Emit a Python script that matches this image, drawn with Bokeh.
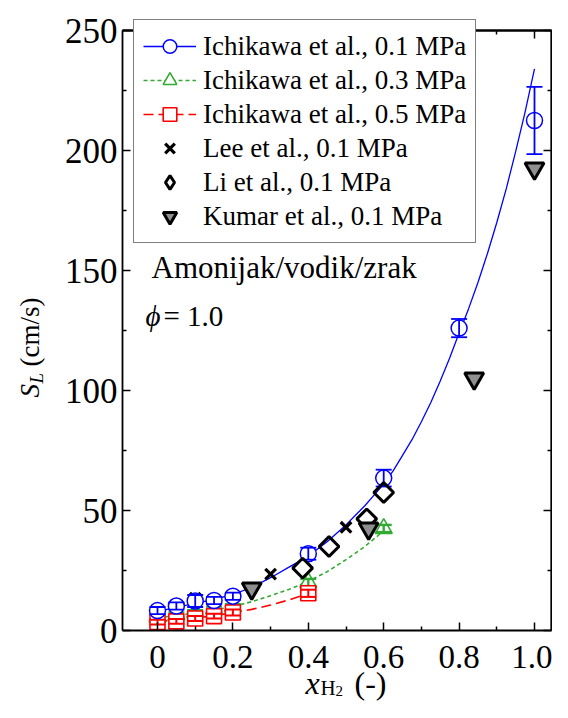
import math
from bokeh.plotting import figure
from bokeh.models import Range1d, LinearAxis, FixedTicker, Legend, LegendItem, Label
from bokeh.embed import file_html
from bokeh.resources import INLINE

# ---------------- data ----------------
# Ichikawa et al., 0.1 MPa (circles, with error bars) and fitted curve
x_ich01 = [0.0, 0.05, 0.1, 0.15, 0.2, 0.4, 0.6, 0.8, 1.0]
sl_ich01 = [8.3, 10.2, 12.3, 12.5, 14.3, 32.0, 63.5, 126.0, 212.5]
err_ich01 = [1.5, 1.5, 2.5, 1.5, 1.5, 2.5, 3.5, 3.8, 14.0]
fit_x01 = [0.0, 0.05, 0.1, 0.15, 0.2, 0.25, 0.3, 0.35, 0.4, 0.45, 0.5,
           0.525, 0.55, 0.575, 0.6, 0.625, 0.65, 0.675, 0.7, 0.725, 0.75,
           0.775, 0.8, 0.825, 0.85, 0.875, 0.9, 0.925, 0.95, 0.975, 1.0]
fit_sl01 = [8.0, 9.6, 11.3, 13.0, 15.0, 18.0, 22.0, 26.5, 31.0, 37.0, 44.0,
            48.0, 52.0, 56.5, 61.0, 66.5, 73.0, 79.5, 87.0, 95.0, 104.0,
            113.5, 124.0, 134.0, 145.0, 157.0, 170.0, 184.0, 199.5, 216.0, 234.0]

# Ichikawa et al., 0.3 MPa (triangles) and fitted curve
x_ich03 = [0.0, 0.05, 0.1, 0.15, 0.2, 0.4, 0.6]
sl_ich03 = [5.5, 6.5, 7.5, 9.0, 10.0, 20.0, 42.5]
err_ich03 = [1.0, 1.0, 1.0, 1.0, 1.0, 1.5, 1.5]
fit_x03 = [0.0, 0.05, 0.1, 0.15, 0.2, 0.25, 0.3, 0.35, 0.4, 0.45, 0.5, 0.55, 0.6]
fit_sl03 = [5.3, 6.2, 7.3, 8.5, 10.0, 12.0, 14.5, 17.2, 20.5, 24.5, 29.5, 35.0, 41.5]

# Ichikawa et al., 0.5 MPa (squares) and fitted curve
x_ich05 = [0.0, 0.05, 0.1, 0.15, 0.2, 0.4]
sl_ich05 = [3.5, 3.8, 5.0, 6.0, 7.5, 15.5]
err_ich05 = [1.0, 1.0, 1.0, 1.0, 1.2, 1.5]
fit_x05 = [0.0, 0.05, 0.1, 0.15, 0.2, 0.25, 0.3, 0.35, 0.4]
fit_sl05 = [3.8, 4.4, 5.2, 6.2, 7.4, 8.8, 10.6, 12.8, 15.5]

# Lee et al., Li et al., Kumar et al. (0.1 MPa)
x_lee = [0.1, 0.3, 0.5]
sl_lee = [13.5, 23.5, 43.0]
x_li = [0.385, 0.455, 0.555, 0.6]
sl_li = [26.0, 35.0, 46.5, 57.5]
x_kumar = [0.25, 0.56, 0.84, 1.0]
sl_kumar = [17.5, 42.5, 105.0, 192.5]

x_ticks = [0, 0.2, 0.4, 0.6, 0.8, 1.0]
x_tick_labels = ["0", "0.2", "0.4", "0.6", "0.8", "1.0"]
x_minor = [0.1, 0.3, 0.5, 0.7, 0.9]
y_ticks = [0, 50, 100, 150, 200, 250]
y_minor = [25, 75, 125, 175, 225]

legend_labels = ["Ichikawa et al., 0.1 MPa", "Ichikawa et al., 0.3 MPa",
                 "Ichikawa et al., 0.5 MPa", "Lee et al., 0.1 MPa",
                 "Li et al., 0.1 MPa", "Kumar et al., 0.1 MPa"]

BLUE = "#0000ff"
GREEN = "#33aa33"
RED = "#ff0000"
SERIF = "Liberation Serif"

# ---------------- layout (picture pixels -> data) ----------------
W, H = 552, 702
X0_PX, X_SCALE = 157.0, 377.0   # picture x of x=0, px per unit
Y0_PX, Y_SCALE = 630.0, 2.4     # picture y of y=0, px per unit


def dx(px):
    return (px - X0_PX) / X_SCALE


def dy(py):
    return (Y0_PX - py) / Y_SCALE


XL, XR = dx(122), dx(551)    # box left / right
YB, YT = 0, 250              # box bottom / top

p = figure(width=W, height=H, output_backend="svg", toolbar_location=None,
           x_range=Range1d(dx(0), dx(W)), y_range=Range1d(dy(H), dy(0)),
           min_border=0, x_axis_location=None, y_axis_location=None)
p.xgrid.visible = False
p.ygrid.visible = False
p.outline_line_color = None
p.background_fill_color = "white"
p.border_fill_color = "white"


def style_axis(ax, tick_in=8, minor_in=4):
    ax.axis_line_color = "black"
    ax.axis_line_width = 1.8
    ax.major_tick_line_color = "black"
    ax.major_tick_line_width = 1.5
    ax.minor_tick_line_color = "black"
    ax.minor_tick_line_width = 1.5
    ax.major_tick_in = tick_in
    ax.major_tick_out = 0
    ax.minor_tick_in = minor_in
    ax.minor_tick_out = 0
    return ax


# bottom axis
xb = style_axis(LinearAxis(ticker=FixedTicker(ticks=x_ticks, minor_ticks=x_minor),
                           fixed_location=YB, bounds=(XL, XR)))
xb.major_label_text_font = SERIF
xb.major_label_text_font_size = "33px"
xb.major_label_text_color = "black"
xb.major_label_standoff = 15
xb.major_label_overrides = {t: l for t, l in zip(x_ticks, x_tick_labels)}
p.add_layout(xb, "below")

# left axis
yl = style_axis(LinearAxis(ticker=FixedTicker(ticks=y_ticks, minor_ticks=y_minor),
                           fixed_location=XL, bounds=(YB, YT)))
yl.major_label_text_font = SERIF
yl.major_label_text_font_size = "35px"
yl.major_label_text_color = "black"
yl.major_label_standoff = 5
p.add_layout(yl, "left")

# top and right axes: tick marks only (no labels)
for ticks, length in ((x_ticks, 8), (x_minor, 4)):
    ax = style_axis(LinearAxis(ticker=FixedTicker(ticks=[], minor_ticks=ticks),
                               fixed_location=YT, bounds=(XL, XR)), 8, length)
    p.add_layout(ax, "above")
for ticks, length in ((y_ticks, 8), (y_minor, 4)):
    ax = style_axis(LinearAxis(ticker=FixedTicker(ticks=[], minor_ticks=ticks),
                               fixed_location=XR, bounds=(YB, YT)), 8, length)
    p.add_layout(ax, "right")

# fitted curves
l01 = p.line(fit_x01, fit_sl01, line_color=BLUE, line_width=1.3)
l03 = p.line(fit_x03, fit_sl03, line_color=GREEN, line_width=1.6, line_dash="4 3")
l05 = p.line(fit_x05, fit_sl05, line_color=RED, line_width=1.6, line_dash="10 5")

lee = p.scatter(x_lee, sl_lee, marker="x", size=15, line_color="black", line_width=3.2)


def error_bars(xs, ys, es, color, width):
    lo = [y - e for y, e in zip(ys, es)]
    hi = [y + e for y, e in zip(ys, es)]
    p.segment(x0=xs, y0=lo, x1=xs, y1=hi, line_color=color, line_width=width)
    p.scatter(xs, lo, marker="dash", size=16, line_color=color, line_width=width)
    p.scatter(xs, hi, marker="dash", size=16, line_color=color, line_width=width)


s03 = p.scatter(x_ich03, sl_ich03, marker="triangle", size=17, line_color=GREEN,
                fill_color="white", line_width=1.6)
error_bars(x_ich03, sl_ich03, err_ich03, GREEN, 2.4)
s05 = p.scatter(x_ich05, sl_ich05, marker="square", size=15, line_color=RED,
                fill_color="white", line_width=1.6)
error_bars(x_ich05, sl_ich05, err_ich05, RED, 2.0)
s01 = p.scatter(x_ich01, sl_ich01, marker="circle", size=16, line_color=BLUE,
                fill_color="white", line_width=1.5)
error_bars(x_ich01, sl_ich01, err_ich01, BLUE, 1.8)

li = p.scatter(x_li, sl_li, marker="square", angle=math.pi / 4, size=14,
               line_color="black", fill_color=None, line_width=3)
# hidden twin of the Li et al. series, used only for its legend key (diamond)
li_key = p.scatter(x_li, sl_li, marker="diamond", size=20, line_color="black",
                   fill_color=None, line_width=3, visible=False)
kumar = p.scatter(x_kumar, sl_kumar, marker="inverted_triangle", size=19,
                  line_color="black", fill_color="#8f8f8f", line_width=3)

legend = Legend(items=[
    LegendItem(label=legend_labels[0], renderers=[l01, s01]),
    LegendItem(label=legend_labels[1], renderers=[l03, s03]),
    LegendItem(label=legend_labels[2], renderers=[l05, s05]),
    LegendItem(label=legend_labels[3], renderers=[lee]),
    LegendItem(label=legend_labels[4], renderers=[li_key]),
    LegendItem(label=legend_labels[5], renderers=[kumar]),
], location=(133, H - 243))
legend.label_text_font = SERIF
legend.label_text_font_size = "27px"
legend.label_text_color = "black"
legend.border_line_color = "black"
legend.border_line_width = 1.5
legend.background_fill_color = "white"
legend.background_fill_alpha = 1.0
legend.inactive_fill_alpha = 0.0
legend.padding = 9
legend.spacing = 0
legend.margin = 0
legend.glyph_width = 53
legend.glyph_height = 34
legend.label_height = 34
legend.label_standoff = 7
legend.click_policy = "none"
p.add_layout(legend)


def lab(text, px, py, size, style="normal", angle=0.0):
    p.add_layout(Label(x=dx(px), y=dy(py), text=text, angle=angle,
                       text_font=SERIF, text_font_size=size,
                       text_font_style=style, text_color="black",
                       text_align="left", text_baseline="alphabetic"))


# annotation texts
lab("Amonijak/vodik/zrak", 151, 267, "31px")
lab("\u03d5", 145, 315, "29px", "italic")
lab("= 1.0", 163, 315, "29px")

# x axis label: x_{H2} (-)
lab("x", 305, 682, "32px", "italic")
lab("H", 320, 687, "21px")
lab("2", 335, 690, "15px")
lab("(-)", 354, 682, "32px")

# y axis label: S_L (cm/s), rotated
ang = math.pi / 2
lab("S", 29, 397, "27px", "italic", ang)
lab("L", 36, 383, "19px", "italic", ang)
lab("(cm/s)", 29, 366, "27px", "normal", ang)

open("out.html", "w").write(file_html(p, INLINE))
